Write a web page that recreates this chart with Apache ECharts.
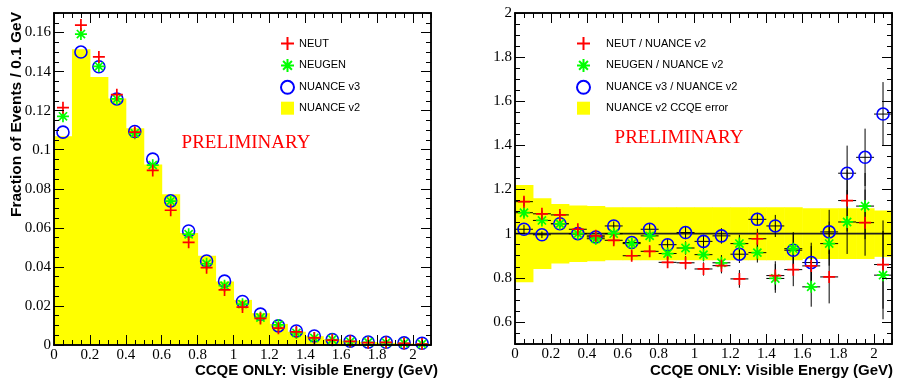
<!DOCTYPE html>
<html>
<head>
<meta charset="utf-8">
<script src="https://cdn.jsdelivr.net/npm/echarts@6/dist/echarts.min.js"></script>
<style>
  html, body { margin: 0; padding: 0; background: #fff; }
  #chart { width: 898px; height: 381px; }
</style>
</head>
<body>
<div id="chart"></div>
<script>
// Visible energy bin centres (GeV), bins are 0.1 GeV wide
const binCenters = [0.05, 0.15, 0.25, 0.35, 0.45, 0.55, 0.65, 0.75, 0.85, 0.95, 1.05,
                    1.15, 1.25, 1.35, 1.45, 1.55, 1.65, 1.75, 1.85, 1.95, 2.05];

// Fraction of events per 0.1 GeV
const nuanceV2 = [0.1069, 0.1514, 0.1372, 0.1262, 0.1110, 0.0924, 0.0772, 0.0573, 0.0457, 0.0325, 0.0231,
                  0.0163, 0.0108, 0.0068, 0.0045, 0.0030, 0.0022, 0.0015, 0.0011, 0.0008, 0.0006];
const neut     = [0.1215, 0.1638, 0.1475, 0.1282, 0.1090, 0.0894, 0.0690, 0.0526, 0.0396, 0.0282, 0.0194,
                  0.0136, 0.0086, 0.0067, 0.0036, 0.0025, 0.0019, 0.0012, 0.0013, 0.0008, 0.0005];
const neugen   = [0.1171, 0.1592, 0.1427, 0.1260, 0.1084, 0.0921, 0.0737, 0.0567, 0.0416, 0.0304, 0.0209,
                  0.0141, 0.0103, 0.0062, 0.0036, 0.0028, 0.0017, 0.0014, 0.0012, 0.0009, 0.0005];
const nuanceV3 = [0.1090, 0.1500, 0.1425, 0.1260, 0.1093, 0.0952, 0.0738, 0.0584, 0.0430, 0.0327, 0.0223,
                  0.0158, 0.0098, 0.0072, 0.0046, 0.0028, 0.0019, 0.0015, 0.0014, 0.0011, 0.0009];

// Ratios to NUANCE v2 and their uncertainties
const ratioNeut   = [1.145, 1.09, 1.085, 1.02, 0.99, 0.97, 0.90, 0.92, 0.87, 0.868, 0.84,
                     0.855, 0.795, 0.977, 0.81, 0.837, 0.854, 0.804, 1.15, 1.05, 0.86];
const ratioNeugen = [1.095, 1.06, 1.045, 1.0, 0.977, 1.0, 0.955, 0.99, 0.91, 0.935, 0.905,
                     0.868, 0.955, 0.914, 0.797, 0.932, 0.759, 0.955, 1.053, 1.125, 0.812];
const ratioV3     = [1.02, 0.995, 1.045, 1.0, 0.985, 1.035, 0.96, 1.02, 0.95, 1.005, 0.965,
                     0.99, 0.907, 1.065, 1.035, 0.925, 0.869, 1.008, 1.274, 1.346, 1.542];
const errNeut     = [0.02, 0.015, 0.015, 0.015, 0.015, 0.02, 0.02, 0.025, 0.025, 0.03, 0.03,
                     0.035, 0.04, 0.045, 0.065, 0.075, 0.09, 0.12, 0.14, 0.15, 0.2];
const errNeugen   = [0.02, 0.015, 0.015, 0.015, 0.015, 0.02, 0.02, 0.025, 0.025, 0.03, 0.03,
                     0.035, 0.04, 0.045, 0.065, 0.075, 0.09, 0.1, 0.145, 0.15, 0.2];
const errV3       = [0.02, 0.015, 0.015, 0.015, 0.015, 0.02, 0.02, 0.025, 0.025, 0.03, 0.03,
                     0.035, 0.04, 0.03, 0.05, 0.075, 0.09, 0.1, 0.125, 0.13, 0.145];
// NUANCE v2 CCQE error band half-width around unity
const ccqeErr     = [0.22, 0.16, 0.135, 0.128, 0.125, 0.12, 0.12, 0.12, 0.12, 0.12, 0.12,
                     0.12, 0.12, 0.12, 0.12, 0.12, 0.115, 0.115, 0.115, 0.115, 0.105];
const unity = 1;

// Axis ranges and tick values
const xRange = [0, 2.1];
const yLeftRange = [0, 0.17];
const yRightRange = [0.5, 2.0];
const xMajorTicks = [0, 0.2, 0.4, 0.6, 0.8, 1, 1.2, 1.4, 1.6, 1.8, 2];
const yLeftTicks = [0, 0.02, 0.04, 0.06, 0.08, 0.1, 0.12, 0.14, 0.16];
const yRightTicks = [0.6, 0.8, 1, 1.2, 1.4, 1.6, 1.8, 2];

const leftNames = ['NEUT', 'NEUGEN', 'NUANCE v3', 'NUANCE v2'];
const rightNames = ['NEUT / NUANCE v2', 'NEUGEN / NUANCE v2', 'NUANCE v3 / NUANCE v2', 'NUANCE v2 CCQE error'];

const halfBin = 0.05;
const RED = '#ff0000', GREEN = '#00ff00', BLUE = '#0000ff', YELLOW = '#ffff00';
const PLUS = 'path://M0,5L10,5M5,0L5,10';
const STAR = 'path://M0,5L10,5M5,0L5,10M1.6,1.6L8.4,8.4M8.4,1.6L1.6,8.4';

function stepTicks(lo, hi, step) {
  const out = [];
  const n = Math.round((hi - lo) / step);
  for (let i = 0; i <= n; i++) out.push(+(lo + i * step).toFixed(4));
  return out;
}

const labelStyle = { fontFamily: 'Liberation Serif', fontSize: 15, color: '#000' };

function axis(grid, pos, range, ticks, len, withLabels) {
  return {
    type: 'value', gridIndex: grid, position: pos, min: range[0], max: range[1],
    axisLine: { show: true, onZero: false, lineStyle: { color: '#000', width: 1.5 } },
    axisTick: { show: true, inside: true, length: len, customValues: ticks,
                lineStyle: { color: '#000', width: 1 } },
    axisLabel: withLabels ? Object.assign({ show: true, margin: 3, customValues: ticks }, labelStyle)
                          : { show: false },
    splitLine: { show: false },
    z: 10
  };
}

function axesForGrid(grid, yRange, yMajor, yMinorStep) {
  const xMinor = stepTicks(xRange[0], xRange[1], 0.05);
  const yMinor = stepTicks(yRange[0], yRange[1], yMinorStep);
  return {
    x: [
      axis(grid, 'bottom', xRange, xMajorTicks, 10, true),
      axis(grid, 'bottom', xRange, xMinor, 5, false),
      axis(grid, 'top', xRange, xMajorTicks, 10, false),
      axis(grid, 'top', xRange, xMinor, 5, false)
    ],
    y: [
      axis(grid, 'left', yRange, yMajor, 10, true),
      axis(grid, 'left', yRange, yMinor, 5, false),
      axis(grid, 'right', yRange, yMajor, 10, false),
      axis(grid, 'right', yRange, yMinor, 5, false)
    ]
  };
}

const leftAxes = axesForGrid(0, yLeftRange, yLeftTicks, 0.005);
const rightAxes = axesForGrid(1, yRightRange, yRightTicks, 0.05);

const pts = (vals) => binCenters.map((x, i) => [x, vals[i]]);
const ptsErr = (vals, errs) => binCenters.map((x, i) => [x, vals[i], errs[i]]);

function markerSeries(name, axisIdx, data, symbol, color, size) {
  const isCircle = symbol === 'circle';
  return {
    type: 'scatter', name, xAxisIndex: axisIdx, yAxisIndex: axisIdx,
    data, symbol, symbolSize: size,
    itemStyle: { color: 'transparent', borderColor: color, borderWidth: isCircle ? 1.6 : 1.7, opacity: 1 },
    emphasis: { disabled: true },
    z: 5
  };
}

function errorSeries(axisIdx, data) {
  return {
    type: 'custom', xAxisIndex: axisIdx, yAxisIndex: axisIdx, clip: true, z: 4,
    data,
    renderItem(params, api) {
      const x = api.value(0), y = api.value(1), e = api.value(2);
      const top = api.coord([x, y + e]), bot = api.coord([x, y - e]);
      const l = api.coord([x - halfBin, y]), r = api.coord([x + halfBin, y]);
      const st = { stroke: '#000', lineWidth: 1 };
      return { type: 'group', children: [
        { type: 'line', shape: { x1: top[0], y1: top[1], x2: bot[0], y2: bot[1] }, style: st },
        { type: 'line', shape: { x1: l[0], y1: l[1], x2: r[0], y2: r[1] }, style: st }
      ] };
    }
  };
}

// Yellow boxes spanning [lo, hi] for each bin
function boxSeries(name, axisIdx, data) {
  return {
    type: 'custom', name, xAxisIndex: axisIdx, yAxisIndex: axisIdx, clip: true, z: 2,
    data,
    itemStyle: { color: YELLOW },
    renderItem(params, api) {
      const x = api.value(0), lo = api.value(1), hi = api.value(2);
      const p0 = api.coord([x - halfBin, hi]), p1 = api.coord([x + halfBin, lo]);
      return { type: 'rect',
        shape: { x: p0[0], y: p0[1], width: p1[0] - p0[0] + 0.5, height: p1[1] - p0[1] },
        style: { fill: YELLOW, stroke: null } };
    }
  };
}

const histData = binCenters.map((x, i) => [x, 0, nuanceV2[i]]);
const bandData = binCenters.map((x, i) => [x, unity - ccqeErr[i], unity + ccqeErr[i]]);

const legendText = { fontFamily: 'Liberation Sans', fontSize: 11, color: '#000', lineHeight: 13 };

const option = {
  animation: false,
  backgroundColor: '#fff',
  grid: [
    { left: 54, top: 13, width: 377, height: 332, outerBoundsMode: 'none', containLabel: false },
    { left: 515, top: 13, width: 377, height: 331, outerBoundsMode: 'none', containLabel: false }
  ],
  xAxis: leftAxes.x.concat(rightAxes.x),
  yAxis: leftAxes.y.concat(rightAxes.y),
  legend: [
    {
      left: 275, top: 31, orient: 'vertical', itemWidth: 13, itemHeight: 13, itemGap: 6.9,
      textStyle: legendText, selectedMode: false,
      data: [
        { name: leftNames[0], icon: PLUS },
        { name: leftNames[1], icon: STAR },
        { name: leftNames[2], icon: 'circle' },
        { name: leftNames[3], icon: 'rect', itemStyle: { color: YELLOW, borderWidth: 0 } }
      ]
    },
    {
      left: 571, top: 31, orient: 'vertical', itemWidth: 13, itemHeight: 13, itemGap: 6.9,
      textStyle: Object.assign({ padding: [0, 0, 0, 11] }, legendText), selectedMode: false,
      data: [
        { name: rightNames[0], icon: PLUS },
        { name: rightNames[1], icon: STAR },
        { name: rightNames[2], icon: 'circle' },
        { name: rightNames[3], icon: 'rect', itemStyle: { color: YELLOW, borderWidth: 0 } }
      ]
    }
  ],
  series: [
    // Left: distributions
    boxSeries(leftNames[3], 0, histData),
    markerSeries(leftNames[2], 0, pts(nuanceV3), 'circle', BLUE, 12),
    markerSeries(leftNames[1], 0, pts(neugen), STAR, GREEN, 12),
    markerSeries(leftNames[0], 0, pts(neut), PLUS, RED, 12),
    // Right: ratios to NUANCE v2
    boxSeries(rightNames[3], 4, bandData),
    {
      type: 'line', xAxisIndex: 4, yAxisIndex: 4, z: 3, symbol: 'none', silent: true,
      data: [[xRange[0], unity], [xRange[1], unity]],
      lineStyle: { color: '#222', width: 1.6 }
    },
    errorSeries(4, ptsErr(ratioV3, errV3)),
    errorSeries(4, ptsErr(ratioNeugen, errNeugen)),
    errorSeries(4, ptsErr(ratioNeut, errNeut)),
    markerSeries(rightNames[2], 4, pts(ratioV3), 'circle', BLUE, 12),
    markerSeries(rightNames[1], 4, pts(ratioNeugen), STAR, GREEN, 12),
    markerSeries(rightNames[0], 4, pts(ratioNeut), PLUS, RED, 12)
  ],
  graphic: [
    { type: 'text', x: 438, y: 371, z: 20,
      style: { text: 'CCQE ONLY: Visible Energy (GeV)', fill: '#000', font: 'bold 15px "Liberation Sans"',
               align: 'right', verticalAlign: 'middle' } },
    { type: 'text', x: 893, y: 371, z: 20,
      style: { text: 'CCQE ONLY: Visible Energy (GeV)', fill: '#000', font: 'bold 15px "Liberation Sans"',
               align: 'right', verticalAlign: 'middle' } },
    { type: 'text', x: 17, y: 12, rotation: Math.PI / 2, z: 20,
      style: { text: 'Fraction of Events / 0.1 GeV', fill: '#000', font: 'bold 15.5px "Liberation Sans"',
               align: 'right', verticalAlign: 'middle' } },
    { type: 'text', x: 246, y: 143, z: 20,
      style: { text: 'PRELIMINARY', fill: '#ff0000', font: '19px "Liberation Serif"',
               align: 'center', verticalAlign: 'middle' } },
    { type: 'text', x: 679, y: 138, z: 20,
      style: { text: 'PRELIMINARY', fill: '#ff0000', font: '19px "Liberation Serif"',
               align: 'center', verticalAlign: 'middle' } }
  ]
};

const chart = echarts.init(document.getElementById('chart'), null, { renderer: 'canvas' });
chart.setOption(option);
</script>
</body>
</html>
